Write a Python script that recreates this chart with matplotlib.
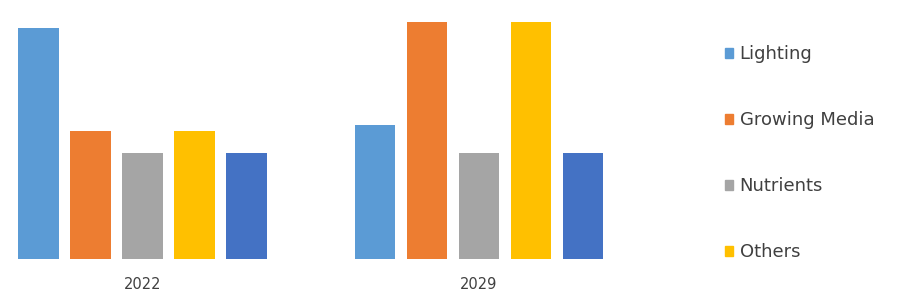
import numpy as np
import matplotlib.pyplot as plt
from matplotlib.patches import Patch

# data (arbitrary units)
years = ["2022", "2029"]
series = ["Lighting", "Growing Media", "Nutrients", "Others", "Other"]
lighting = [23.1, 13.4]
growing_media = [12.8, 23.7]
nutrients = [10.6, 10.6]
others = [12.8, 23.7]
other = [10.6, 10.6]

values = [lighting, growing_media, nutrients, others, other]
colors = ["#5B9BD5", "#ED7D31", "#A5A5A5", "#FFC000", "#4472C4"]
legend_shown = [True, True, True, True, False]

fig = plt.figure(figsize=(9, 3.02), dpi=100)
ax = fig.add_axes([0, 43 / 302, 680 / 900, 259 / 302])

group_gap = 6.47
centers = np.arange(len(years)) * group_gap
for j, (name, vals, c) in enumerate(zip(series, values, colors)):
    ax.bar(centers + (j - 2), vals, width=0.77, color=c, label=name)

ax.set_xlim(-2.74, -2.74 + 680 / 52)
ax.set_ylim(0, 25.9)
ax.set_xticks(centers)
ax.set_xticklabels(years, fontsize=10.5, color="#404040")
ax.tick_params(axis="x", length=0, pad=13)
ax.set_yticks([])
for s in ax.spines.values():
    s.set_visible(False)

handles = [Patch(color=c, label=n) for n, c, show in zip(series, colors, legend_shown) if show]
fig.legend(handles=handles, loc="upper left", bbox_to_anchor=(718 / 900, 1 - 38 / 302),
           frameon=False, fontsize=13, labelcolor="#404040",
           handlelength=0.45, handleheight=0.45, handletextpad=0.35,
           labelspacing=2.66, borderaxespad=0)

fig.savefig("out.png", dpi=100)
